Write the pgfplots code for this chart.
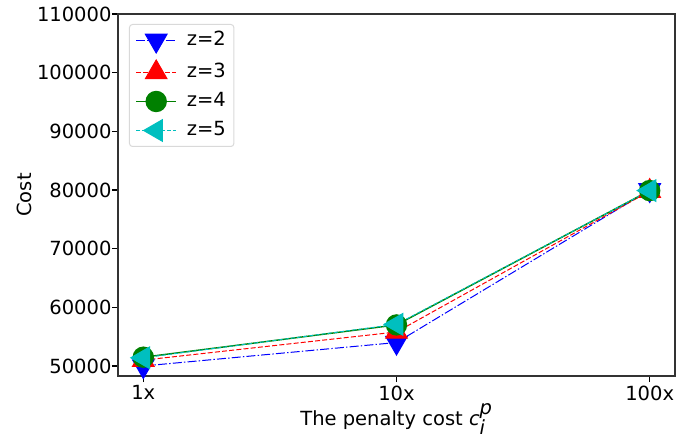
\documentclass[border=0pt]{standalone}
\usepackage{pgfplots}
\pgfplotsset{compat=1.18}
\usepackage{fontspec}
\setmainfont{DejaVu Sans}
\definecolor{mplgreen}{rgb}{0,0.5,0}
\definecolor{mplcyan}{rgb}{0,0.75,0.75}
\newcommand{\bigfont}{\fontsize{19.5pt}{23pt}\selectfont}
\begin{document}
\begin{tikzpicture}
\begin{axis}[
  scale only axis,
  width=557pt, height=362pt,
  xmin=-0.1, xmax=2.1,
  ymin=48295, ymax=110000,
  xtick={0,1,2}, xticklabels={1x,10x,100x},
  ytick={50000,60000,70000,80000,90000,100000,110000},
  xtick pos=bottom, ytick pos=left,
  scaled y ticks=false,
  /pgf/number format/assume math mode=true,
  yticklabel={\pgfmathprintnumber[fixed,set thousands separator={}]{\tick}},
  tick align=outside,
  tick style={black, line width=1.1pt},
  major tick length=6pt,
  axis line style={line width=1.1pt, black!80},
  tick label style={font=\bigfont},
  yticklabel style={xshift=3pt},
  label style={font=\bigfont},
  xlabel={The penalty cost \textit{c}$_{\textit{i}}^{\textit{p}}$},
  ylabel={Cost},
  xlabel style={yshift=4pt},
  ylabel style={yshift=-2pt},
  legend style={at={(0,1)}, anchor=north west, xshift=11pt, yshift=-10pt,
    draw=black!15, line width=1pt, rounded corners=3pt, font=\bigfont,
    nodes={inner ysep=2pt, text height=14pt, text depth=4pt},
    row sep=7pt, column sep=8pt, inner xsep=6pt, inner ysep=5pt},
  legend cell align=left,
  legend image code/.code={
    \draw[#1, mark repeat=2, mark phase=2] plot coordinates {(0pt,0pt) (20pt,0pt) (40pt,0pt)};
  },
  clip=false,
]
\addplot[blue, line width=1pt, dash pattern=on 9pt off 2.2pt on 1.4pt off 2.2pt, mark=triangle*, mark options={solid, rotate=180, fill=blue, draw=blue}, mark size=12.5pt]
  coordinates {(0,50000) (1,54000) (2,80000)};
\addlegendentry{z=2}
\addplot[red, line width=1pt, dash pattern=on 5pt off 2.2pt, mark=triangle*, mark options={solid, fill=red, draw=red}, mark size=12.5pt]
  coordinates {(0,51000) (1,55800) (2,79800)};
\addlegendentry{z=3}
\addplot[mplgreen, line width=1.4pt, solid, mark=*, mark options={solid, fill=mplgreen, draw=mplgreen}, mark size=10pt]
  coordinates {(0,51500) (1,57000) (2,79900)};
\addlegendentry{z=4}
\addplot[mplcyan, line width=1pt, dash pattern=on 4pt off 2.2pt, mark=triangle*, mark options={solid, rotate=90, fill=mplcyan, draw=mplcyan}, mark size=12.5pt]
  coordinates {(0,51400) (1,57100) (2,79900)};
\addlegendentry{z=5}
\coordinate (sw) at (rel axis cs:0,0);
\coordinate (ne) at (rel axis cs:1,1);
\end{axis}
\path ([xshift=-118pt, yshift=-53pt]sw) rectangle ([xshift=21pt, yshift=14pt]ne);
\end{tikzpicture}
\end{document}
